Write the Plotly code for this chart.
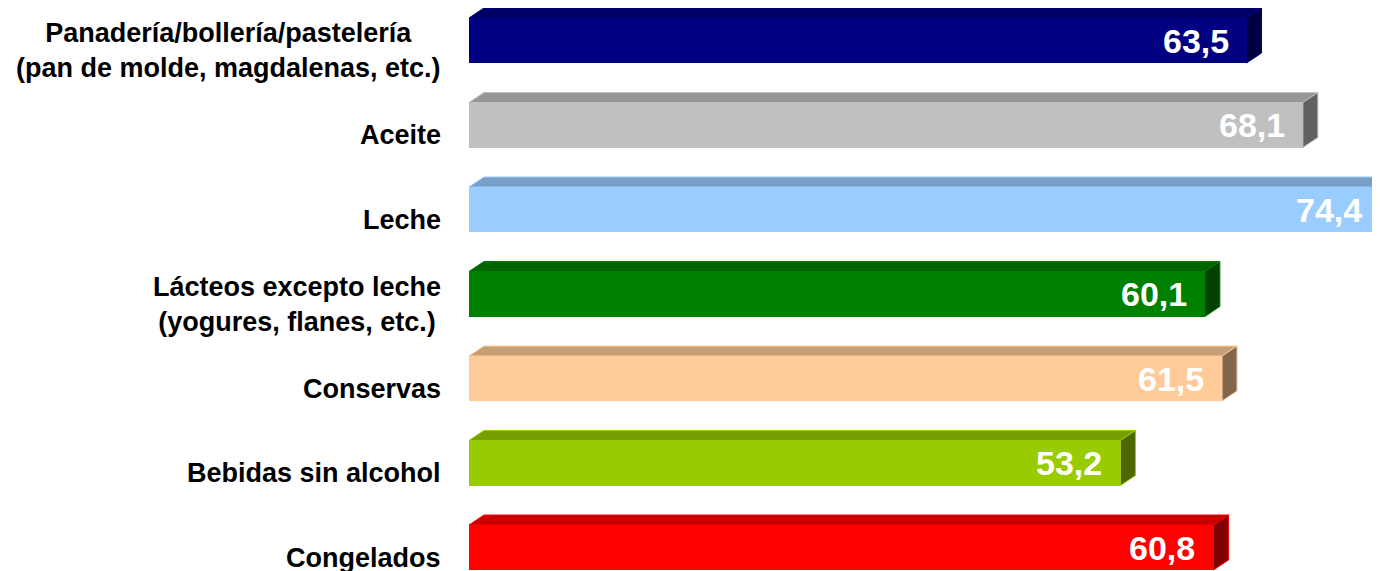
import plotly.graph_objects as go

categories = [
    "Panadería/bollería/pastelería<br>(pan de molde, magdalenas, etc.)",
    "Aceite",
    "Leche",
    "Lácteos excepto leche<br>(yogures, flanes, etc.)",
    "Conservas",
    "Bebidas sin alcohol",
    "Congelados",
]
values = [63.5, 68.1, 74.4, 60.1, 61.5, 53.2, 60.8]

# front / top / side colours, Excel-style 3D shading
front_colors = ["#000080", "#C0C0C0", "#99CCFF", "#008000", "#FFCC99", "#99CC00", "#FF0000"]
top_colors = ["#000064", "#969696", "#779FC7", "#006400", "#C79F77", "#779F00", "#C70000"]
side_colors = ["#000040", "#606060", "#4D6680", "#004000", "#80664D", "#4D6600", "#800000"]

# page body has an 8px margin, so the figure is drawn 8px in from the window corner
W, H = 1372, 563
LEFT = 461
X_MAX = 74.4
PX_PER_UNIT = (W - LEFT) / X_MAX
ROW_PX = 84.5
FIRST_CENTER_PX = 32.5
BAR_PX = 45
DEPTH_X_PX = 15
DEPTH_Y_PX = 10

bar_w = BAR_PX / ROW_PX
dxu = DEPTH_X_PX / PX_PER_UNIT
dyu = DEPTH_Y_PX / ROW_PX
y_top = -FIRST_CENTER_PX / ROW_PX
y_bot = (H - FIRST_CENTER_PX) / ROW_PX

idx = list(range(len(categories)))

fig = go.Figure()
fig.add_trace(go.Bar(
    x=values, y=idx, orientation="h", width=bar_w,
    marker=dict(color=front_colors, line=dict(width=0)),
    hoverinfo="skip", showlegend=False,
))

for i, v in enumerate(values):
    t = i - bar_w / 2
    b = i + bar_w / 2
    # top face
    fig.add_trace(go.Scatter(
        x=[0, dxu, v + dxu, v, 0], y=[t, t - dyu, t - dyu, t, t],
        mode="lines", fill="toself", fillcolor=top_colors[i],
        line=dict(width=1, color=front_colors[i]), hoverinfo="skip", showlegend=False,
    ))
    # side face
    fig.add_trace(go.Scatter(
        x=[v, v + dxu, v + dxu, v, v], y=[t, t - dyu, b - dyu, b, t],
        mode="lines", fill="toself", fillcolor=side_colors[i],
        line=dict(width=1, color=front_colors[i]), hoverinfo="skip", showlegend=False,
    ))
    # value label
    fig.add_annotation(
        x=v, y=i, xref="x", yref="y", xanchor="right", yanchor="middle",
        xshift=-16, text=f"{v:.1f}".replace(".", ","), showarrow=False,
        font=dict(family="Liberation Sans, Arial", size=34, color="white", weight="bold"),
    )
    # category label
    fig.add_annotation(
        x=0, y=i, xref="paper", yref="y", xanchor="right", yanchor="middle",
        xshift=-26, yshift=-10, text=categories[i], align="center", showarrow=False,
        font=dict(family="Liberation Sans, Arial", size=27, color="black", weight="bold"),
    )

fig.update_xaxes(range=[0, X_MAX], visible=False, fixedrange=True)
fig.update_yaxes(range=[y_bot, y_top], visible=False, fixedrange=True)
fig.update_layout(
    width=W, height=H,
    margin=dict(l=LEFT, r=0, t=0, b=0),
    plot_bgcolor="white", paper_bgcolor="white",
    bargap=0,
)

fig.write_html("out.html")
